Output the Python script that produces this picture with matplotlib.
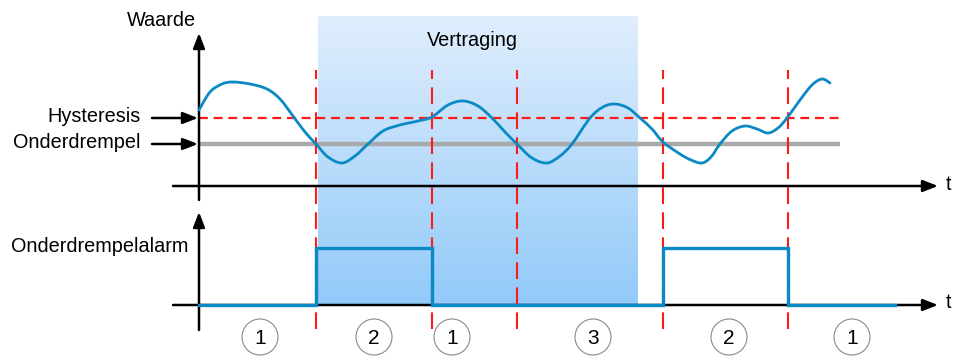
import numpy as np
import matplotlib
matplotlib.use('Agg')
import matplotlib.pyplot as plt
from matplotlib.colors import LinearSegmentedColormap
from matplotlib.path import Path
from matplotlib.patches import PathPatch

plt.rcParams['font.family'] = ['Liberation Sans', 'DejaVu Sans']

# diagram coordinates: t to the right, y upward (0 = bottom of the picture)
# measured signal "Waarde"
curve_t = [199, 210, 222, 233, 250, 267, 280, 293, 305, 316, 328, 342, 355, 368, 383,
           400, 418, 432, 448, 463, 478, 492, 505, 517, 532, 547, 560, 572, 590, 603,
           615, 628, 640, 652, 663, 680, 691, 702, 711, 720, 732, 745, 757, 768, 778, 787,
           800, 812, 822, 830]
curve_v = [250, 268, 276, 278, 276, 271, 261, 244, 228, 216, 203, 197, 204, 216, 229,
           235, 239, 243, 255, 259, 254, 242, 228, 216, 202, 197, 204, 216, 242, 253,
           256, 252, 242, 231, 218, 206, 200, 197, 203, 216, 229, 234, 231, 227, 232, 242,
           260, 275, 281, 277]

hysteresis = 242
onderdrempel = 216

# switching moments and delay window
events = [316, 432, 517, 663, 788]
delay_start, delay_end = 318, 638

# alarm signal (0 = off, 1 = on)
alarm_t = [199, 316, 316, 432, 432, 663, 663, 788, 788, 895]
alarm_on = [0, 0, 1, 1, 0, 0, 1, 1, 0, 0]

# phase numbers under the time axis
phase_t = [260, 374, 452, 593, 729, 852]
phase_labels = ['1', '2', '1', '3', '2', '1']

t_axis_top = 174
t_axis_bottom = 55
alarm_height = 57
blue = '#0a8ac4'
fs = 14.3


def smooth_path(xs, ys):
    # catmull-rom through the points, drawn as bezier segments
    pts = np.column_stack([xs, ys]).astype(float)
    verts = [pts[0]]
    codes = [Path.MOVETO]
    for i in range(len(pts) - 1):
        p0 = pts[max(i - 1, 0)]
        p1 = pts[i]
        p2 = pts[i + 1]
        p3 = pts[min(i + 2, len(pts) - 1)]
        verts += [p1 + (p2 - p0) / 6, p2 - (p3 - p1) / 6, p2]
        codes += [Path.CURVE4] * 3
    return Path(verts, codes)


fig = plt.figure(figsize=(9.54, 3.6), dpi=100)
ax = fig.add_axes([0, 0, 1, 1])
ax.set_xlim(0, 954)
ax.set_ylim(0, 360)
ax.axis('off')

# delay window with vertical gradient
cmap = LinearSegmentedColormap.from_list('vert', ['#92caf9', '#e0eefd'])
grad = np.linspace(0, 1, 256).reshape(-1, 1)
ax.imshow(grad, cmap=cmap, aspect='auto', origin='lower',
          extent=(delay_start, delay_end, t_axis_bottom, 344), zorder=0)
ax.text((delay_start + delay_end) / 2 - 6, 320, 'Vertraging', fontsize=fs,
        ha='center', va='center')

# axes with arrows
arrow_kw = dict(arrowstyle='-|>,head_length=0.9,head_width=0.35', color='black', lw=1.8,
                shrinkA=0, shrinkB=0)
ax.annotate('', xy=(199, 327), xytext=(199, 160), arrowprops=arrow_kw, zorder=3)
ax.annotate('', xy=(938, t_axis_top), xytext=(173, t_axis_top), arrowprops=arrow_kw, zorder=3)
ax.annotate('', xy=(199, 148), xytext=(199, 30), arrowprops=arrow_kw, zorder=3)
ax.annotate('', xy=(938, t_axis_bottom), xytext=(173, t_axis_bottom), arrowprops=arrow_kw, zorder=2)
ax.text(949, t_axis_top + 2, 't', fontsize=fs, ha='center', va='center')
ax.text(949, t_axis_bottom + 2, 't', fontsize=fs, ha='center', va='center')

# threshold lines
ax.plot([199, 840], [onderdrempel, onderdrempel], color='#a9a9a9', lw=3.2,
        solid_capstyle='butt', zorder=2)
ax.plot([199, 840], [hysteresis, hysteresis], color='#ff1a1a', lw=1.6,
        dashes=(4, 2.6), zorder=2)

# labels with arrows on the left
ax.annotate('', xy=(198, hysteresis), xytext=(152, hysteresis), arrowprops=arrow_kw, zorder=4)
ax.annotate('', xy=(198, onderdrempel), xytext=(152, onderdrempel), arrowprops=arrow_kw, zorder=4)
ax.text(141, hysteresis + 1, 'Hysteresis', fontsize=fs, ha='right', va='center')
ax.text(141, onderdrempel + 1, 'Onderdrempel', fontsize=fs, ha='right', va='center')
ax.text(161, 340, 'Waarde', fontsize=fs, ha='center', va='center')
ax.text(100, 114, 'Onderdrempelalarm', fontsize=fs, ha='center', va='center')

# event lines
for x in events:
    ax.plot([x, x], [31, 290], color='#ff1a1a', lw=1.5, dashes=(8, 4), zorder=2)

# measured value
ax.add_patch(PathPatch(smooth_path(curve_t, curve_v), facecolor='none', edgecolor=blue,
                       lw=2.0, capstyle='round', zorder=5))

# alarm signal
alarm_y = [t_axis_bottom + a * alarm_height for a in alarm_on]
ax.plot(alarm_t, alarm_y, color=blue, lw=2.4, solid_joinstyle='miter', zorder=4)

# phase numbers
for x, lab in zip(phase_t, phase_labels):
    circ = plt.Circle((x, 23), 18, facecolor='white', edgecolor='#8a8a8a', lw=0.8, zorder=3)
    ax.add_patch(circ)
    ax.text(x, 22, lab, fontsize=15, ha='center', va='center', zorder=4)

fig.savefig('out.png', dpi=100)
